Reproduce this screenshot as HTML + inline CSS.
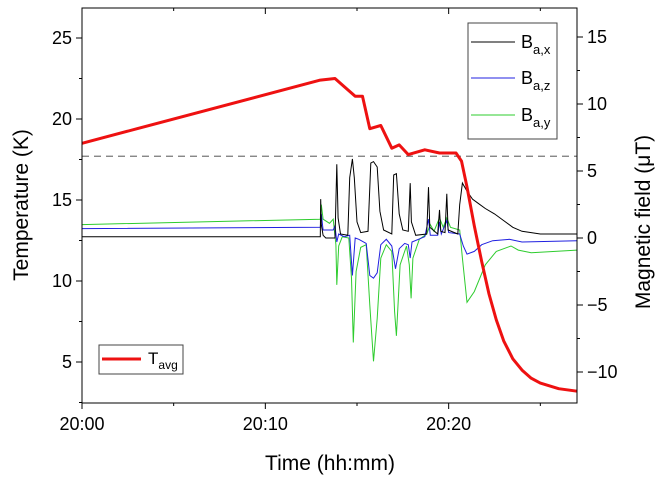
<!DOCTYPE html>
<html><head><meta charset="utf-8"><style>
body{margin:0;background:#fff;}
svg{display:block;font-family:"Liberation Sans",Arial,sans-serif;}
</style></head><body>
<svg id="c" width="656" height="479" viewBox="0 0 656 479">
<rect x="0" y="0" width="656" height="479" fill="#fff"/>
<g id="marks"></g>
<g id="axes"></g>
</svg>
<script>
const tTime=[0,13,13.8,14.3,14.9,15.3,15.7,16.3,16.9,17.3,17.8,18.7,19.5,20.4,20.7,21.0,21.4,21.8,22.2,22.6,23.0,23.5,24,24.5,25,26,27];
const tVal=[18.5,22.4,22.5,22.0,21.4,21.4,19.4,19.6,18.2,18.4,17.8,18.1,17.9,17.9,17.4,15.8,13.4,11.2,9.2,7.6,6.3,5.2,4.5,4.0,3.7,3.35,3.2];
const bxTime=[0,13,13.02,13.05,13.15,13.3,13.8,13.9,13.97,14.1,14.5,14.6,14.75,14.85,15.0,15.2,15.6,15.75,15.9,16.1,16.25,16.45,16.9,17.0,17.15,17.3,17.5,17.8,17.9,17.97,18.2,18.8,18.9,18.97,19.4,19.5,19.57,19.8,19.9,19.97,20.5,20.6,20.75,21.0,21.3,21.6,22.0,22.5,23.0,23.5,24,24.5,25,27];
const bxVal=[0.1,0.1,2.9,1.0,0.2,0.0,0.0,5.5,1.5,0.3,0.2,4.5,5.9,4.5,1.2,0.4,0.5,5.6,5.7,5.3,2.0,0.6,0.3,4.7,4.8,1.8,0.6,0.5,4.1,1.2,0.2,0.3,3.8,0.8,0.3,2.1,0.5,0.4,3.3,0.6,0.3,2.5,4.1,3.5,2.9,2.6,2.2,1.8,1.3,0.8,0.5,0.4,0.3,0.3];
const bzTime=[0,13,13.05,13.15,13.4,13.7,13.8,13.9,14.0,14.3,14.6,14.75,14.9,15.1,15.5,15.7,15.9,16.1,16.3,16.6,16.9,17.1,17.3,17.6,17.8,17.9,18.0,18.7,18.9,19.0,19.4,19.5,19.6,19.9,20.0,20.6,20.8,21.0,21.4,21.8,22.4,23.3,24,27];
const bzVal=[0.7,0.8,1.8,0.6,0.6,0.6,0.9,-0.3,0.3,0.1,0.2,-2.8,0.0,-0.1,-0.4,-2.8,-3.0,-2.6,-0.5,-0.1,-0.6,-2.3,-0.8,-0.4,-0.5,-1.5,-0.3,0.1,1.4,0.2,0.2,1.2,0.3,1.3,0.4,0.3,-0.6,-1.2,-1.0,-0.5,-0.2,-0.1,-0.3,-0.2];
const byTime=[0,13,13.05,13.15,13.5,13.7,13.85,13.9,14.0,14.2,14.55,14.7,14.8,14.95,15.2,15.5,15.7,15.9,16.1,16.3,16.6,16.9,17.05,17.15,17.35,17.7,17.85,17.95,18.05,18.4,18.8,19.0,19.2,19.5,19.7,19.9,20.1,20.6,20.75,21.0,21.4,22.0,22.6,23.4,23.8,24.5,27];
const byVal=[1.0,1.4,2.5,1.4,1.1,1.4,-0.5,-3.5,-0.6,0.1,0,-3,-7.8,-2.5,-0.7,-0.5,-5,-9.2,-6,-1.5,-0.5,-1,-5.5,-7.3,-2,-0.6,-2,-4.5,-1.5,-0.1,0.3,1.0,0.5,1.5,0.8,1.5,0.8,0.6,-1.5,-4.8,-4.0,-2.0,-1.0,-0.6,-0.9,-1.1,-0.9];
const xTicks=[0,10,20];const xLabels=["20:00","20:10","20:20"];
const yLTicks=[5,10,15,20,25];const yRTicks=[-10,-5,0,5,10,15];
const threshold=17.7;

const L=82,R=577,T=8,B=403;
const X=t=>L+(t)*(R-L)/27;
const YT=v=>119-(v-20)*16.2;
const YB=v=>238-13.4*v;
const NS="http://www.w3.org/2000/svg";
const marks=document.getElementById('marks'),axes=document.getElementById('axes');
function mk(tag,attrs,parent){const e=document.createElementNS(NS,tag);for(const k in attrs)e.setAttribute(k,attrs[k]);parent.appendChild(e);return e;}
function path(ts,vs,yf){return ts.map((t,i)=>(i?'L':'M')+X(t).toFixed(1)+','+yf(vs[i]).toFixed(1)).join('');}

let dl=mk('line',{x1:L,x2:R,y1:YT(threshold),y2:YT(threshold),stroke:'#777','stroke-dasharray':'7,5','stroke-width':1.2},marks);


let pg=mk('path',{d:path(byTime,byVal,YB),fill:'none',stroke:'#2ecc2e','stroke-width':1},marks);


let pz=mk('path',{d:path(bzTime,bzVal,YB),fill:'none',stroke:'#2020e0','stroke-width':1},marks);


let px=mk('path',{d:path(bxTime,bxVal,YB),fill:'none',stroke:'#000','stroke-width':1},marks);


let pt=mk('path',{d:path(tTime,tVal,YT),fill:'none',stroke:'#ee1111','stroke-width':3,'stroke-linejoin':'round'},marks);



let fr=mk('rect',{x:L,y:T,width:R-L,height:B-T,fill:'none',stroke:'#000','stroke-width':1},axes);


for(let m=0;m<=27;m+=5){const x=X(m);const major=m%10===0;mk('line',{x1:x,x2:x,y1:B,y2:B+(major?6:3),stroke:'#000'},axes);mk('line',{x1:x,x2:x,y1:T,y2:T+(major?6:3),stroke:'#000'},axes);}
xTicks.forEach((m,i)=>{const t=mk('text',{x:X(m),y:B+27,'text-anchor':'middle','font-size':18},axes);t.textContent=xLabels[i];

});
for(let v=2.5;v<=26;v+=2.5){const y=YT(v);const major=v%5===0;mk('line',{x1:L,x2:L-(major?6:3),y1:y,y2:y,stroke:'#000'},axes);}
yLTicks.forEach(v=>{const t=mk('text',{x:L-10,y:YT(v)+6,'text-anchor':'end','font-size':18},axes);t.textContent=v;

});
for(let v=-12.5;v<=17;v+=2.5){const y=YB(v);if(y<T||y>B)continue;const major=v%5===0;mk('line',{x1:R,x2:R+(major?6:3),y1:y,y2:y,stroke:'#000'},axes);}
yRTicks.forEach(v=>{const t=mk('text',{x:R+10,y:YB(v)+6,'text-anchor':'start','font-size':18},axes);t.textContent=v<0?'\u2212'+(-v):v;

});
let xt=mk('text',{x:330,y:470,'text-anchor':'middle','font-size':21},axes);xt.textContent='Time (hh:mm)';


let yt=mk('text',{x:0,y:0,'text-anchor':'middle','font-size':21,transform:'translate(28,205) rotate(-90)'},axes);yt.textContent='Temperature (K)';


let yr=mk('text',{x:0,y:0,'text-anchor':'middle','font-size':21,transform:'translate(650,222) rotate(-90)'},axes);yr.textContent='Magnetic field (\u03bcT)';



const lg=mk('g',{},axes);


mk('rect',{x:468,y:23,width:89,height:116,fill:'#fff',stroke:'#444'},lg);
[['#000','x',42],['#2020e0','z',78],['#2ecc2e','y',115]].forEach(([c,s,y])=>{
 mk('line',{x1:471,x2:515,y1:y,y2:y,stroke:c},lg);
 const t=mk('text',{x:521,y:y+6,'font-size':18},lg);
 t.innerHTML='B<tspan font-size="13" dy="6">a,'+s+'</tspan>';
 
 
});
const lg2=mk('g',{},axes);


mk('rect',{x:99,y:345,width:84,height:29,fill:'#fff',stroke:'#444'},lg2);
mk('line',{x1:102,x2:141,y1:359,y2:359,stroke:'#ee1111','stroke-width':3},lg2);
const lt=mk('text',{x:148,y:364,'font-size':17},lg2);
lt.innerHTML='T<tspan font-size="12" dy="5">avg</tspan>';


</script>
</body></html>
